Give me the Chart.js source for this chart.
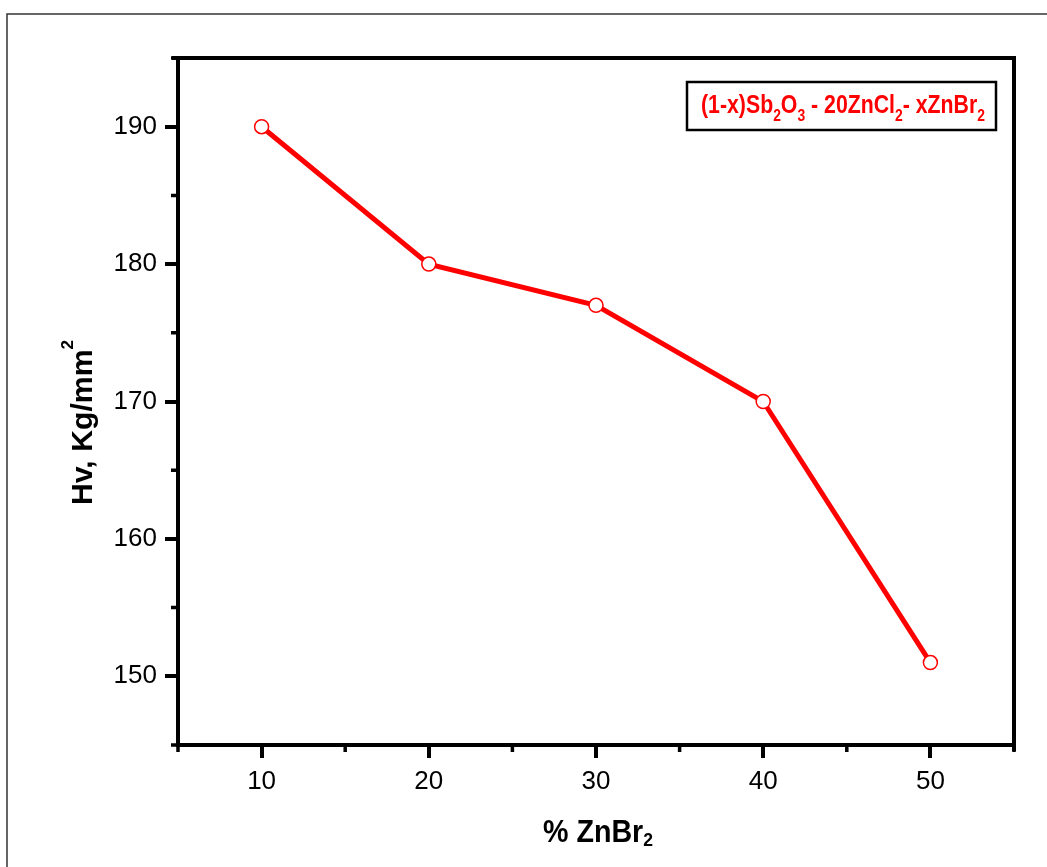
<!DOCTYPE html>
<html><head><meta charset="utf-8">
<script src="https://cdn.jsdelivr.net/npm/chart.js@4.4.1/dist/chart.umd.min.js"></script>
<style>html,body{margin:0;padding:0;background:#fff;} canvas{display:block;}</style>
</head><body>
<canvas id="c" width="1047" height="867"></canvas>
<script>
// ---- data ----
const znbr2Percent = [10, 20, 30, 40, 50];
const hardnessHv = [190, 180, 177, 170, 151];
const xTicks = [10, 20, 30, 40, 50];
const yTicks = [150, 160, 170, 180, 190];
const xMinorTicks = [5, 15, 25, 35, 45, 55];
const yMinorTicks = [145, 155, 165, 175, 185, 195];
const xRange = [5, 55];
const yRange = [145, 195];
// text pieces: [text, level] level -1 = subscript, 1 = superscript
const seriesLabel = [['(1-x)Sb', 0], ['2', -1], ['O', 0], ['3', -1], [' - 20ZnCl', 0], ['2', -1], ['- xZnBr', 0], ['2', -1]];
const xTitle = [['% ZnBr', 0], ['2', -1]];
const yTitle = [['Hv, Kg/mm', 0], ['2', 1]];

const FONT = '"Liberation Sans", Arial, sans-serif';

function drawRich(ctx, segs, o) {
  let total = 0;
  const parts = segs.map(([t, lvl]) => {
    const sz = lvl === 0 ? o.size : o.small;
    ctx.font = `bold ${sz}px ${FONT}`;
    const w = ctx.measureText(t).width;
    total += w;
    return { t, lvl, sz, w };
  });
  const sx = o.width ? o.width / total : 1;
  ctx.save();
  ctx.translate(o.x, o.y);
  if (o.rotate) ctx.rotate(o.rotate);
  ctx.scale(sx, 1);
  ctx.fillStyle = o.color;
  ctx.textBaseline = 'alphabetic';
  ctx.textAlign = 'left';
  let cx = 0;
  parts.forEach(p => {
    ctx.font = `bold ${p.sz}px ${FONT}`;
    const dy = p.lvl === -1 ? o.subShift : (p.lvl === 1 ? -o.supShift : 0);
    ctx.fillText(p.t, cx, dy);
    cx += p.w;
  });
  ctx.restore();
}

const decor = {
  id: 'decor',
  afterDraw(chart) {
    const ctx = chart.ctx;
    const a = chart.chartArea;
    const xs = chart.scales.x, ys = chart.scales.y;
    ctx.save();
    // outer frame
    ctx.strokeStyle = '#333';
    ctx.lineWidth = 1.5;
    ctx.strokeRect(7, 14, 1200, 1000);
    // top and right axis lines
    ctx.strokeStyle = '#000';
    ctx.lineWidth = 4;
    ctx.beginPath();
    ctx.moveTo(a.left - 6, a.top);
    ctx.lineTo(a.right + 2, a.top);
    ctx.moveTo(a.right, a.top - 2);
    ctx.lineTo(a.right, a.bottom + 6);
    ctx.stroke();
    // minor ticks
    ctx.lineWidth = 3.5;
    ctx.beginPath();
    xMinorTicks.forEach(v => {
      const px = xs.getPixelForValue(v);
      ctx.moveTo(px, a.bottom);
      ctx.lineTo(px, a.bottom + 7);
    });
    yMinorTicks.forEach(v => {
      const py = ys.getPixelForValue(v);
      ctx.moveTo(a.left, py);
      ctx.lineTo(a.left - 7, py);
    });
    ctx.stroke();
    // legend box
    ctx.fillStyle = '#fff';
    ctx.fillRect(687, 82, 309, 48);
    ctx.lineWidth = 2.5;
    ctx.strokeStyle = '#000';
    ctx.strokeRect(687, 82, 309, 48);
    drawRich(ctx, seriesLabel, { x: 701, y: 113, size: 26, small: 17, subShift: 8, supShift: 0, color: '#ff0000', width: 284 });
    // axis titles
    drawRich(ctx, xTitle, { x: 543, y: 842, size: 31, small: 19, subShift: 4, supShift: 0, color: '#000', width: 110 });
    drawRich(ctx, yTitle, { x: 92, y: 505, rotate: -Math.PI / 2, size: 30, small: 17, subShift: 0, supShift: 19, color: '#000', width: 165 });
    ctx.restore();
  }
};

const tickFont = { family: FONT, size: 26 };

new Chart(document.getElementById('c'), {
  type: 'line',
  data: {
    datasets: [{
      label: '(1-x)Sb2O3 - 20ZnCl2- xZnBr2',
      data: znbr2Percent.map((x, i) => ({ x, y: hardnessHv[i] })),
      borderColor: '#ff0000',
      borderWidth: 5,
      tension: 0,
      pointRadius: 7,
      pointBorderWidth: 1.5,
      pointBorderColor: '#ff0000',
      pointBackgroundColor: '#ffffff',
      fill: false
    }]
  },
  options: {
    responsive: false,
    animation: false,
    devicePixelRatio: 1,
    layout: { padding: { top: 58, right: 33, left: 0, bottom: 0 } },
    plugins: { legend: { display: false }, tooltip: { enabled: false }, title: { display: false } },
    scales: {
      x: {
        type: 'linear', position: 'bottom', min: xRange[0], max: xRange[1],
        afterBuildTicks: s => { s.ticks = xTicks.map(v => ({ value: v })); },
        afterFit: s => { s.height = 122; },
        grid: { drawOnChartArea: false, drawTicks: true, tickLength: 13, lineWidth: 4, color: '#000' },
        border: { display: true, width: 4, color: '#000' },
        ticks: { font: tickFont, color: '#000', padding: 8, maxRotation: 0, autoSkip: false }
      },
      y: {
        type: 'linear', position: 'left', min: yRange[0], max: yRange[1],
        afterBuildTicks: s => { s.ticks = yTicks.map(v => ({ value: v })); },
        afterFit: s => { s.width = 178; },
        grid: { drawOnChartArea: false, drawTicks: true, tickLength: 13, lineWidth: 4, color: '#000' },
        border: { display: true, width: 4, color: '#000' },
        ticks: { font: tickFont, color: '#000', padding: 8, autoSkip: false }
      }
    }
  },
  plugins: [decor]
});
</script>
</body></html>
